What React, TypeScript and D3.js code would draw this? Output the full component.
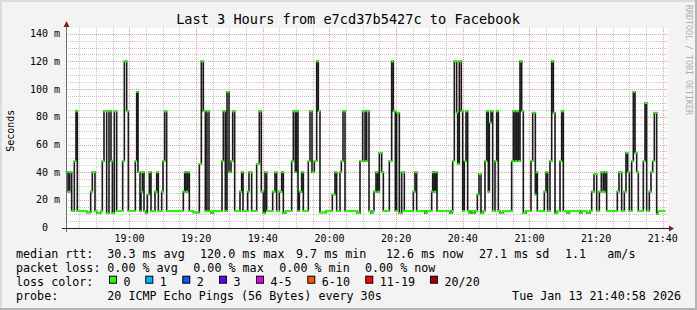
import React from "react";
import * as d3 from "d3";

const chartTitle = "Last 3 Hours from e7cd37b5427c to Facebook";
const startTime = new Date(2026, 0, 13, 18, 40, 58);
const endTime = new Date(2026, 0, 13, 21, 40, 58);
const lastSampleMinute = 179.7;

// step change times (minutes after start) and median rtt (ms)
const stepMinutes = [
  0, 0.6, 1.1, 1.7, 2.5, 3.0, 3.4, 6.2, 7.4, 7.9, 8.7, 9.2, 10.4, 10.9, 11.4, 12.2, 12.9, 13.5, 13.9, 14.5,
  15.2, 17.0, 17.5, 18.2, 18.7, 20.8, 21.2, 21.6, 22.2, 22.5, 22.9, 23.4, 23.9, 24.4, 25.0, 25.5, 26.7, 27.2,
  27.7, 28.7, 29.1, 29.6, 30.2, 35.2, 35.6, 36.0, 36.5, 37.0, 38.2, 40.0, 40.6, 41.2, 41.8, 42.3, 42.9, 43.4,
  44.2, 46.8, 47.2, 47.8, 48.3, 48.9, 49.5, 50.0, 50.6, 52.2, 52.7, 53.1, 54.5, 54.9, 55.7, 57.2, 58.0, 58.6,
  59.2, 59.7, 60.2, 62.0, 62.7, 63.2, 64.0, 64.7, 65.2, 65.9, 67.7, 68.2, 68.8, 69.1, 69.6, 70.0, 70.7, 71.2,
  72.7, 73.2, 73.8, 74.5, 75.2, 75.7, 76.2, 78.0, 79.9, 80.7, 81.2, 82.2, 82.6, 83.1, 83.7, 87.4, 88.2, 89.0,
  89.7, 90.2, 90.9, 91.5, 92.0, 92.4, 93.0, 93.5, 94.0, 94.7, 95.2, 97.0, 97.7, 98.2, 98.8, 99.2, 100.0, 100.7,
  101.5, 104.2, 104.7, 105.2, 107.7, 108.2, 109.7, 110.0, 110.5, 110.9, 111.3, 115.2, 115.8, 116.0, 116.5,
  117.2, 117.5, 118.0, 118.6, 119.0, 119.5, 120.0, 120.5, 121.0, 121.5, 122.0, 122.7, 123.4, 123.9, 124.5,
  125.2, 125.7, 126.2, 126.7, 127.0, 127.5, 128.0, 128.7, 129.2, 129.7, 130.2, 131.2, 133.7, 134.2, 134.7,
  135.2, 135.7, 136.2, 136.7, 137.2, 138.0, 139.5, 140.0, 140.8, 141.0, 141.4, 143.5, 144.0, 144.5, 145.2,
  145.7, 146.2, 146.7, 147.4, 148.2, 148.7, 149.2, 150.2, 151.0, 154.2, 154.7, 156.2, 157.2, 157.7, 158.4,
  159.2, 160.0, 160.6, 161.2, 161.7, 162.2, 165.4, 165.9, 166.7, 167.5, 168.0, 168.5, 169.0, 169.7, 170.2,
  170.7, 171.2, 171.7, 173.2, 173.7, 174.2, 175.0, 175.5, 176.0, 176.5, 177.2, 177.5,
];
const medianMs = [
  40, 26, 40, 12, 48, 84, 12, 11, 26, 40, 12, 10.5, 12, 48, 84, 10.5, 84, 48, 10.5, 84,
  12, 48, 120, 84, 12, 48, 98, 40, 12, 26, 40, 12, 10.5, 24, 40, 12, 26, 40,
  12, 26, 48, 84, 12, 26, 40, 26, 40, 12, 11, 46, 120, 84, 12, 84, 12, 10.5,
  12, 48, 84, 12, 98, 40, 48, 84, 12, 26, 40, 12, 26, 40, 12, 46, 84, 26,
  10.5, 40, 12, 26, 40, 12, 26, 40, 10.5, 12, 48, 84, 40, 84, 12, 26, 40, 12,
  48, 84, 40, 48, 120, 84, 11, 12, 24, 40, 12, 40, 48, 84, 12, 10.5, 48, 84,
  48, 84, 12, 10.5, 12, 26, 40, 26, 54, 40, 12, 48, 120, 84, 12, 83, 10.5, 40,
  12, 26, 40, 12, 10.5, 12, 26, 40, 26, 40, 12, 10.5, 12, 48, 120,
  83, 46, 120, 84, 12, 48, 84, 12, 10.5, 12, 10.5, 12, 24, 38.6, 10.5,
  12, 48, 84, 26, 76, 84, 12, 48, 84, 12, 10.5, 12, 48, 84, 48,
  84, 48, 120, 84, 10.5, 12, 48, 83, 24, 40, 12, 26, 40, 12, 48,
  120, 83, 10.5, 12, 48, 84, 12, 10.5, 12, 10.5, 12, 10.5, 12, 26, 38.6,
  12, 26, 40, 26, 40, 12, 26, 40, 12, 26, 54, 40, 12, 48, 98,
  54, 40, 12, 48, 90, 12, 26, 40, 48, 83, 10, 12,
];

const yTickValues = [0, 20, 40, 60, 80, 100, 120, 140];
const yTickLabels = ["0", "20 m", "40 m", "60 m", "80 m", "100 m", "120 m", "140 m"];

const medianLabel = "median rtt:";
const medianStats = ["30.3 ms avg", "120.0 ms max", "9.7 ms min", "12.6 ms now", "27.1 ms sd", "1.1", "am/s"];
const lossLabel = "packet loss:";
const lossStats = ["0.00 % avg", "0.00 % max", "0.00 % min", "0.00 % now"];
const lossColorLabel = "loss color:";
const lossLevels = ["0", "1", "2", "3", "4-5", "6-10", "11-19", "20/20"];
const lossColors = ["#26ff00", "#00b8ff", "#0059ff", "#5e00ff", "#dd00ff", "#ff5700", "#ff0000", "#a10000"];
const probeLabel = "probe:";
const probeText = "20 ICMP Echo Pings (56 Bytes) every 30s";
const stampText = "Tue Jan 13 21:40:58 2026";
const watermark = "RRDTOOL / TOBI OETIKER";

const MONO = "'DejaVu Sans Mono', monospace";

export default function App() {
  const W = 697;
  const H = 310;
  const x0 = 66;
  const x1 = 666;
  const yBot = 227.7;
  const yTop = 33.7;

  const x = d3.scaleTime().domain([startTime, endTime]).range([x0, x1]);
  const y = d3.scaleLinear().domain([0, 140]).range([yBot, yTop]);
  const toDate = (m: number) => new Date(startTime.getTime() + m * 60000);

  const pts: [Date, number][] = stepMinutes.map((m, i) => [toDate(m), medianMs[i]]);
  pts.push([toDate(lastSampleMinute), medianMs[medianMs.length - 1]]);

  const stepLine = d3
    .line<[Date, number]>()
    .x((d) => x(d[0]))
    .y((d) => y(d[1]))
    .curve(d3.curveStepAfter);

  const minorX = d3.timeMinute.every(5)!.range(startTime, endTime);
  const majorX = d3.timeMinute.every(20)!.range(startTime, endTime);
  const majorSet = new Set(majorX.map((d) => d.getTime()));
  const minorY = d3.range(0, 141, 5);
  const fmt = d3.timeFormat("%H:%M");

  const gridTop = 27;
  const gridRight = 668;

  const medianX = [107.3, 200, 296, 386, 479, 565, 607.3];
  const lossX = [107.3, 193.3, 279.3, 365];
  const boxX = [109, 145.3, 182.3, 219, 256, 307.3, 365.3, 430];

  const row1 = 258;
  const rowGap = 14;

  return (
    <div style={{ position: "absolute", left: 0, top: 0 }}>
      <svg width={W} height={H} style={{ display: "block" }}>
        <rect x={0} y={0} width={W} height={H} fill="#f3f3f3" />
        {/* 3D frame */}
        <rect x={0} y={0} width={W} height={2} fill="#dcdcdc" />
        <rect x={0} y={0} width={2} height={H} fill="#dcdcdc" />
        <rect x={0} y={H - 2} width={W} height={2} fill="#b4b4b4" />
        <rect x={W - 2} y={0} width={2} height={H} fill="#b4b4b4" />

        {/* canvas */}
        <rect x={x0} y={28} width={gridRight - x0} height={yBot - 28} fill="#ffffff" />

        {/* minor grid */}
        <g stroke="#c8c8c8" strokeWidth={1} strokeDasharray="1,1" shapeRendering="crispEdges">
          {minorX
            .filter((d) => !majorSet.has(d.getTime()))
            .map((d, i) => (
              <line key={"mx" + i} x1={Math.round(x(d)) + 0.5} x2={Math.round(x(d)) + 0.5} y1={gridTop} y2={yBot} />
            ))}
          {minorY
            .filter((v) => v % 20 !== 0)
            .map((v, i) => (
              <line key={"my" + i} x1={x0} x2={gridRight} y1={Math.round(y(v)) + 0.5} y2={Math.round(y(v)) + 0.5} />
            ))}
        </g>
        {/* major grid */}
        <g stroke="#f0a0a0" strokeWidth={1} strokeDasharray="1,1" shapeRendering="crispEdges">
          {majorX.map((d, i) => (
            <line key={"Mx" + i} x1={Math.round(x(d)) + 0.5} x2={Math.round(x(d)) + 0.5} y1={gridTop} y2={yBot} />
          ))}
          {yTickValues
            .filter((v) => v > 0)
            .map((v, i) => (
              <line key={"My" + i} x1={x0} x2={gridRight} y1={Math.round(y(v)) + 0.5} y2={Math.round(y(v)) + 0.5} />
            ))}
        </g>

        {/* median step line */}
        <path d={stepLine(pts) || ""} fill="none" stroke="#1a1a1a" strokeWidth={1.6} />
        <g stroke={lossColors[0]} strokeWidth={2}>
          {pts.slice(0, -1).map((p, i) => (
            <line key={"g" + i} x1={x(p[0]) - 0.5} x2={x(pts[i + 1][0]) + 0.5} y1={y(p[1])} y2={y(p[1])} />
          ))}
        </g>

        {/* axes */}
        <line x1={66.5} x2={66.5} y1={232} y2={24} stroke="#707070" strokeWidth={1} />
        <line x1={62} x2={670} y1={228.5} y2={228.5} stroke="#202020" strokeWidth={1} />
        <polygon points="63.5,27 69.5,27 66.5,21" fill="#8b1c1c" />
        <polygon points="669,225.5 669,231.5 674,228.5" fill="#8b1c1c" />

        {/* y labels */}
        <g fontFamily={MONO} fontSize={10} fill="#000">
          {yTickValues.map((v, i) => (
            <text key={"yl" + i} x={v === 0 ? 48 : 60} y={y(v)} dy="0.35em" textAnchor="end">
              {yTickLabels[i]}
            </text>
          ))}
          {majorX.map((d, i) => (
            <text key={"xl" + i} x={x(d)} y={242} textAnchor="middle">
              {fmt(d)}
            </text>
          ))}
        </g>

        {/* title */}
        <text x={348} y={24} textAnchor="middle" fontFamily={MONO} fontSize={13.6} fill="#000">
          {chartTitle}
        </text>

        {/* y title */}
        <text
          transform={`translate(14,${(yTop + yBot) / 2}) rotate(-90)`}
          textAnchor="middle"
          fontFamily={MONO}
          fontSize={10}
          fill="#000"
        >
          Seconds
        </text>

        {/* watermark */}
        <text transform="translate(686,5) rotate(90)" fontFamily={MONO} fontSize={8.3} fill="#b0b0b0">
          {watermark}
        </text>

        {/* legend */}
        <g fontFamily={MONO} fontSize={11.7} fill="#000">
          <text x={16} y={row1}>{medianLabel}</text>
          {medianStats.map((s, i) => (
            <text key={"ms" + i} x={medianX[i]} y={row1}>{s}</text>
          ))}
          <text x={16} y={row1 + rowGap}>{lossLabel}</text>
          {lossStats.map((s, i) => (
            <text key={"ls" + i} x={lossX[i]} y={row1 + rowGap}>{s}</text>
          ))}
          <text x={16} y={row1 + 2 * rowGap}>{lossColorLabel}</text>
          {lossLevels.map((s, i) => (
            <g key={"lc" + i}>
              <rect x={boxX[i] + 0.5} y={276.2} width={7} height={7} fill={lossColors[i]} stroke="#000" strokeWidth={1} />
              <text x={boxX[i] + 14.5} y={row1 + 2 * rowGap}>{s}</text>
            </g>
          ))}
          <text x={16} y={row1 + 3 * rowGap}>{probeLabel}</text>
          <text x={107.3} y={row1 + 3 * rowGap}>{probeText}</text>
          <text x={681} y={row1 + 3 * rowGap} textAnchor="end">{stampText}</text>
        </g>
      </svg>
    </div>
  );
}
